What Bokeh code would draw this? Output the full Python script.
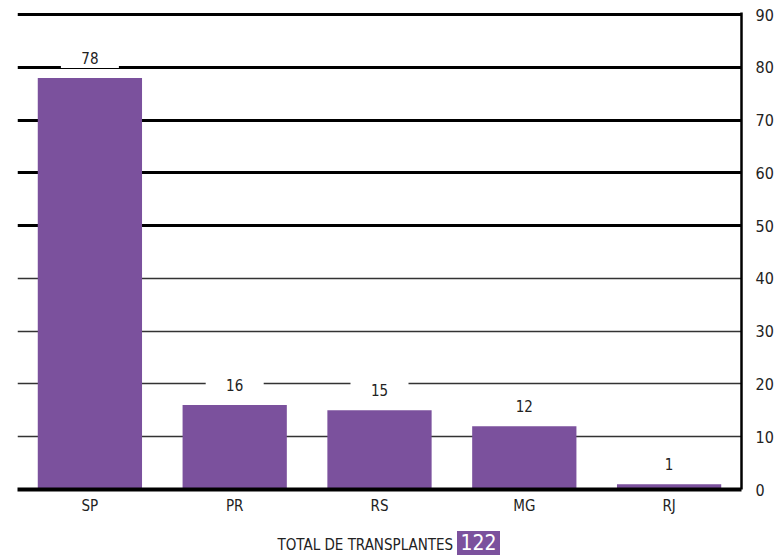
from bokeh.plotting import figure
from bokeh.models import (ColumnDataSource, FactorRange, Range1d, LinearAxis, Grid,
                          FixedTicker, Div)
from bokeh.layouts import column
from bokeh.core.properties import value
from bokeh.embed import file_html
from bokeh.resources import INLINE

states = ["SP", "PR", "RS", "MG", "RJ"]
transplants = [78, 16, 15, 12, 1]
total = 122
major_ticks = [50, 60, 70, 80, 90]
minor_ticks = [10, 20, 30, 40]
axis_ticks = [0, 10, 20, 30, 40, 50, 60, 70, 80, 90]

FONT = "'Liberation Sans Narrow', 'DejaVu Sans Condensed', 'Roboto', sans-serif"
PURPLE = "#7b519d"

src = ColumnDataSource(dict(
    state=states,
    n=transplants,
    label=[str(v) for v in transplants],
    box_y=[v + 3.8 for v in transplants],
))

p = figure(width=776, height=526, x_range=FactorRange(*states, range_padding=0),
           y_range=Range1d(0, 90.4), output_backend="svg", toolbar_location=None,
           min_border_left=17, min_border_top=12, min_border_right=28, min_border_bottom=37,
           y_axis_location=None)
p.outline_line_color = None
p.xgrid.visible = False
p.ygrid.visible = False

g1 = Grid(dimension=1, ticker=FixedTicker(ticks=major_ticks), grid_line_color="black",
          grid_line_width=3)
g2 = Grid(dimension=1, ticker=FixedTicker(ticks=minor_ticks), grid_line_color="#333333",
          grid_line_width=1.5)
p.add_layout(g1)
p.add_layout(g2)

p.vbar(x="state", top="n", width=0.72, source=src, fill_color=PURPLE, line_color=None)

p.rect(x="state", y="box_y", width=58, height=20, width_units="screen",
       height_units="screen", source=src, fill_color="white", line_color=None)
p.text(x="state", y="n", text="label", source=src, text_align="center",
       text_baseline="middle", y_offset=-20, text_font=value(FONT),
       text_font_size="15px", text_color="#222222")

xa = p.xaxis[0]
xa.axis_line_width = 4
xa.axis_line_color = "black"
xa.major_tick_line_color = None
xa.minor_tick_line_color = None
xa.major_label_text_font = FONT
xa.major_label_text_font_size = "15px"
xa.major_label_text_color = "#222222"
xa.major_label_standoff = 1

ra = LinearAxis(ticker=FixedTicker(ticks=axis_ticks))
ra.axis_line_width = 2.5
ra.axis_line_color = "black"
ra.major_tick_line_color = None
ra.minor_tick_line_color = None
ra.major_label_text_font = FONT
ra.major_label_text_font_size = "16px"
ra.major_label_text_color = "#222222"
ra.major_label_standoff = 8
p.add_layout(ra, "right")

div = Div(width=776, height=26, text=(
    "<div style=\"width:776px;box-sizing:border-box;padding-right:9px;text-align:center;"
    "font-family:" + FONT + ";font-size:15px;color:#222;line-height:24px;\">"
    "TOTAL DE TRANSPLANTES "
    "<span style=\"background:" + PURPLE + ";color:white;font-size:21px;padding:0px 3px;\">"
    + str(total) + "</span></div>"))

layout = column(p, div, spacing=0)
open("out.html", "w").write(file_html(layout, INLINE))
